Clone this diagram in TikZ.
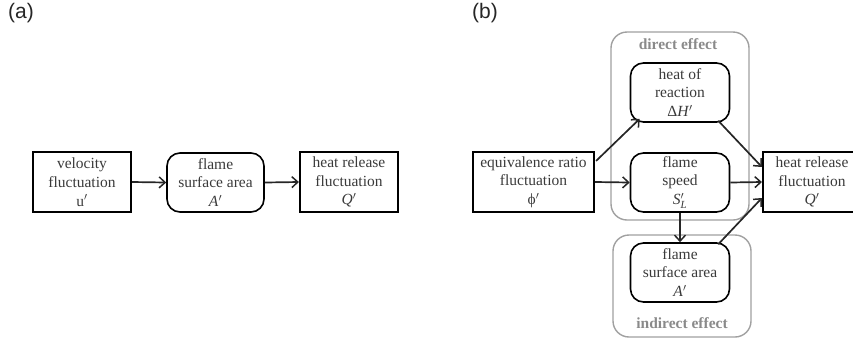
\documentclass[tikz,border=0pt]{standalone}
\usepackage{amsmath}
\usepackage{fontspec}
\setmainfont{Liberation Serif}
\newfontfamily\panelfont{Liberation Sans}
\usetikzlibrary{arrows.meta,calc}
\definecolor{txt}{HTML}{3A3A3A}
\definecolor{grp}{HTML}{A0A0A0}
\definecolor{grptxt}{HTML}{8A8A8A}
\begin{document}
\begin{tikzpicture}[x=1pt,y=-1pt,
  every node/.style={font=\fontsize{15.5}{18.7}\selectfont, text=txt, align=center, inner sep=0pt},
  sqbox/.style={draw=black, line width=2.2pt, minimum width=98pt, minimum height=60pt},
  rbox/.style={draw=black, line width=1.6pt, rounded corners=13pt, minimum width=99pt, minimum height=59pt},
  grpbox/.style={draw=grp, line width=1.4pt, rounded corners=16pt},
  grplabel/.style={text=grptxt, font=\fontsize{15.5}{18}\selectfont\bfseries},
  conn/.style={draw=black!85, line width=1.7pt, -{Straight Barb[length=6pt,width=11pt,line width=1.5pt]}},
  panel/.style={font=\panelfont\fontsize{21}{24}\selectfont, text=black!85, anchor=north west}
]
\useasboundingbox (0,0) rectangle (853,341);
\begin{scope}
\clip (0,0) rectangle (853,341);
% panel labels
\node[panel] (la) at (8,3) {(a)};
\node[panel] (lb) at (472,3) {(b)};

% (a)
\node[sqbox] (vel) at (82,182) {velocity\\fluctuation\\u$'$};
\node[rbox, minimum width=97pt] (fsaA) at (215.5,182.5) {flame\\surface area\\\textit{A}$'$};
\node[sqbox] (hrA) at (349,182) {heat release\\fluctuation\\\textit{Q}$'$};
\draw[conn] (vel.east) -- (fsaA.west);
\draw[conn] (fsaA.east) -- (hrA.west);

% (b) groups
\draw[grpbox] (611,32) rectangle (749,220);
\draw[grpbox] (613,235) rectangle (751,337);
\node[grplabel] (dlab) at (678,44) {direct effect};
\node[grplabel] (ilab) at (682,323) {indirect effect};

\node[sqbox, minimum width=121pt] (eq) at (533.5,182) {equivalence ratio\\fluctuation\\ϕ$'$};
\node[rbox] (hor) at (680,92.5) {heat of\\reaction\\Δ\textit{H}$'$};
\node[rbox] (fs) at (680,182.5) {flame\\speed\\\textit{S}$'_{\textit{L}}$};
\node[rbox] (fsaB) at (680,272.5) {flame\\surface area\\\textit{A}$'$};
\node[sqbox] (hrB) at (812,182) {heat release\\fluctuation\\\textit{Q}$'$};

\draw[conn] ($(eq.north east)+(1,10)$) -- ($(hor.south west)+(10,-4)$);
\draw[conn] (eq.east) -- (fs.west);
\draw[conn] ($(hor.south east)+(-12,-2)$) -- ($(hrB.west)+(0,-15)$);
\draw[conn] (fs.east) -- (hrB.west);
\draw[conn] (fs.south) -- (fsaB.north);
\draw[conn] ($(fsaB.north east)+(-12,2)$) -- ($(hrB.west)+(0,16)$);
\end{scope}
\end{tikzpicture}
\end{document}
